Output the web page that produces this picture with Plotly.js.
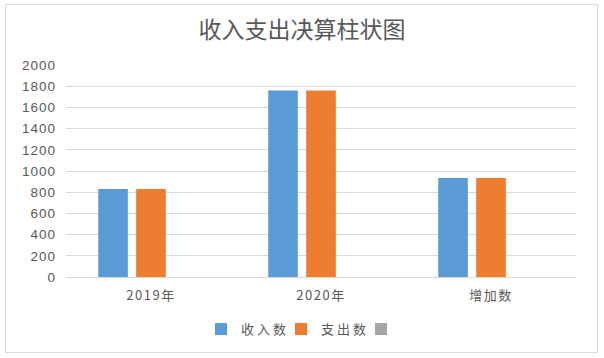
<!DOCTYPE html>
<html>
<head>
<meta charset="utf-8">
<script src="https://cdn.plot.ly/plotly-3.0.1.min.js"></script>
<style>
html,body{margin:0;padding:0;background:#fff;}
#wrap{position:relative;width:604px;height:358px;}
#chart{width:604px;height:358px;}
#frame{position:absolute;left:5px;top:4px;width:591px;height:347px;border:1px solid #d9d9d9;pointer-events:none;}
.xtick text{letter-spacing:1.5px;}
.ytick text{letter-spacing:1px;}
.legendtext{letter-spacing:3px;}
</style>
</head>
<body>
<div id="wrap"><div id="chart"></div><div id="frame"></div></div>
<script>
var categories = ['2019年', '2020年', '增加数'];
var incomeValues = [830, 1760, 935];
var expenseValues = [830, 1760, 935];
var thirdValues = [null, null, null];
var yTicks = [0, 200, 400, 600, 800, 1000, 1200, 1400, 1600, 1800, 2000];

var font = '"Noto Sans CJK SC", "Noto Sans", sans-serif';
var data = [
  {type: 'bar', name: '收入数', x: categories, y: incomeValues, marker: {color: '#5b9bd5'}},
  {type: 'bar', name: '支出数', x: categories, y: expenseValues, marker: {color: '#ed7d31'}},
  {type: 'bar', name: ' ', x: categories, y: thirdValues, marker: {color: '#a5a5a5'}}
];
var layout = {
  width: 604, height: 358,
  margin: {l: 66, r: 28, t: 65, b: 81},
  paper_bgcolor: '#fff', plot_bgcolor: '#fff',
  title: {text: '收入支出决算柱状图', font: {family: font, size: 23, color: '#595959'}, x: 0.5, xanchor: 'center', y: 0.915, yanchor: 'middle'},
  bargap: 0.33, bargroupgap: 0.22,
  xaxis: {showgrid: false, showline: false, zeroline: false, ticks: '', ticklabelstandoff: 9, tickfont: {family: font, size: 13, color: '#595959'}},
  yaxis: {range: [0, 2000], tickvals: yTicks, showgrid: true, gridcolor: '#d9d9d9', gridwidth: 1, zeroline: true, zerolinecolor: '#d9d9d9', showline: false, ticks: '', ticklabelstandoff: 9, tickfont: {family: '"Liberation Sans", sans-serif', size: 13.5, color: '#595959'}, fixedrange: true},
  showlegend: true,
  legend: {orientation: 'h', x: 0.5, xanchor: 'center', y: -0.175, yanchor: 'top', font: {family: font, size: 13, color: '#595959'}, itemwidth: 30, entrywidth: 35, entrywidthmode: 'pixels', traceorder: 'normal'},
  font: {family: font}
};
Plotly.newPlot('chart', data, layout, {displayModeBar: false, staticPlot: true});
</script>
</body>
</html>
